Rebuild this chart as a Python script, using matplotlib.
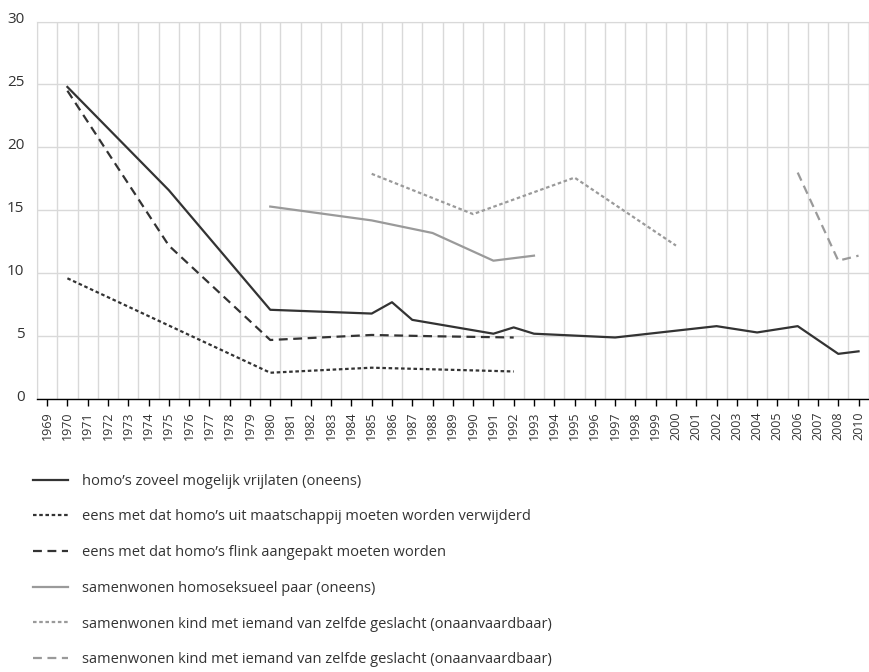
import matplotlib
matplotlib.use('Agg')
import matplotlib.pyplot as plt
import matplotlib.transforms as mtransforms

plt.rcParams['font.family'] = ['Open Sans', 'DejaVu Sans']

# categories on the x axis (note: 2009 is missing in the source)
years = [str(y) for y in range(1969, 2009)] + ['2010']

# series: years with data and values (%)
s1_years = [1970, 1975, 1980, 1985, 1986, 1987, 1991, 1992, 1993, 1997, 2002, 2004, 2006, 2008, 2010]
s1_vals = [24.8, 16.6, 7.1, 6.8, 7.7, 6.3, 5.2, 5.7, 5.2, 4.9, 5.8, 5.3, 5.8, 3.6, 3.8]

s2_years = [1970, 1980, 1985, 1992]
s2_vals = [9.6, 2.1, 2.5, 2.2]

s3_years = [1970, 1975, 1980, 1985, 1988, 1992]
s3_vals = [24.5, 12.2, 4.7, 5.1, 5.0, 4.9]

s4_years = [1980, 1985, 1988, 1991, 1993]
s4_vals = [15.3, 14.2, 13.2, 11.0, 11.4]

s5_years = [1985, 1990, 1995, 2000]
s5_vals = [17.9, 14.7, 17.6, 12.2]

s6_years = [2006, 2008, 2010]
s6_vals = [18.0, 11.0, 11.4]

labels = [
    'homo\u2019s zoveel mogelijk vrijlaten (oneens)',
    'eens met dat homo\u2019s uit maatschappij moeten worden verwijderd',
    'eens met dat homo\u2019s flink aangepakt moeten worden',
    'samenwonen homoseksueel paar (oneens)',
    'samenwonen kind met iemand van zelfde geslacht (onaanvaardbaar)',
    'samenwonen kind met iemand van zelfde geslacht (onaanvaardbaar)',
]

dark = '#333333'
grey = '#9a9a9a'
series = [
    (s1_years, s1_vals, dark, '-'),
    (s2_years, s2_vals, dark, (0, (1.6, 1.2))),
    (s3_years, s3_vals, dark, (0, (4, 2.5))),
    (s4_years, s4_vals, grey, '-'),
    (s5_years, s5_vals, grey, (0, (1.6, 1.2))),
    (s6_years, s6_vals, grey, (0, (4, 2.5))),
]

fig = plt.figure(figsize=(8.7, 6.72), dpi=100)
ax = fig.add_axes([0.0425, 0.406, 0.956, 0.562])

for (yrs, vals, col, ls), lab in zip(series, labels):
    xs = [years.index(str(y)) for y in yrs]
    ax.plot(xs, vals, color=col, linestyle=ls, linewidth=1.6, label=lab)

ax.set_xlim(-0.5, len(years) - 0.5)
ax.set_ylim(0, 30)
ax.set_yticks(range(0, 31, 5))
ax.set_xticks(range(len(years)))
ax.set_xticklabels(years, rotation=90, fontsize=9, color=dark)
ax.set_xticks([i + 0.5 for i in range(-1, len(years))], minor=True)

ax.grid(True, axis='y', color='#d9d9d9', linewidth=1)
ax.grid(True, axis='x', which='minor', color='#d9d9d9', linewidth=1)
ax.set_axisbelow(True)

ax.tick_params(axis='x', which='major', length=5.3, width=1, color='black', pad=3.5)
ax.tick_params(axis='x', which='minor', length=0)
ax.tick_params(axis='y', length=0, pad=9, labelsize=11, labelcolor=dark)
shift = mtransforms.ScaledTranslation(0, 3 / 72, fig.dpi_scale_trans)
for lbl in ax.get_yticklabels():
    lbl.set_horizontalalignment('right')
    lbl.set_transform(lbl.get_transform() + shift)

for side in ['top', 'right', 'left']:
    ax.spines[side].set_color('#d9d9d9')
ax.spines['bottom'].set_color('black')
ax.spines['bottom'].set_linewidth(1)

leg = ax.legend(loc='upper left', frameon=False, fontsize=10.5, handlelength=2.4,
                handletextpad=0.95, labelspacing=1.42, borderaxespad=0, borderpad=0)
leg.set_bbox_to_anchor((0.038, 0.295), transform=fig.transFigure)
for t in leg.get_texts():
    t.set_color(dark)

fig.savefig('out.png', dpi=100)
